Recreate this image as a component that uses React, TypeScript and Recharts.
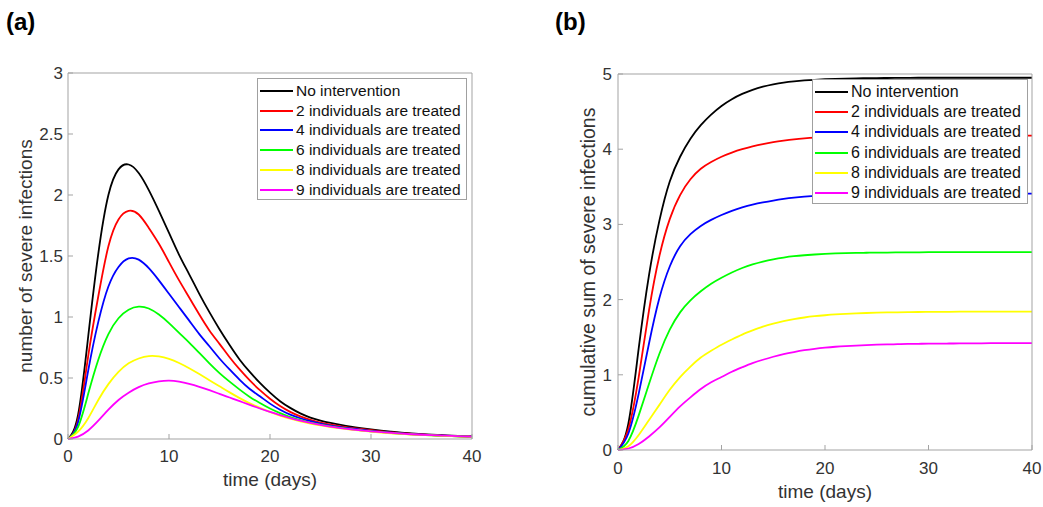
import { LineChart, Line, XAxis, YAxis, Legend } from "recharts";

const FONT = '"Liberation Sans", Arial, sans-serif';
const AXIS = "#a3a3a3";
const TEXT = "#333333";

// days 0..40
const days = [
  0, 1, 2, 3, 4, 5, 6, 7, 8, 9, 10, 11, 12, 13, 14, 15, 16, 17, 18, 19, 20,
  21, 22, 23, 24, 25, 26, 27, 28, 29, 30, 31, 32, 33, 34, 35, 36, 37, 38, 39, 40,
];

const seriesNames = [
  "No intervention",
  "2 individuals are treated",
  "4 individuals are treated",
  "6 individuals are treated",
  "8 individuals are treated",
  "9 individuals are treated",
];
const seriesColors = ["#000000", "#ff0000", "#0000ff", "#00ff00", "#ffff00", "#ff00ff"];

// (a) number of severe infections
const severeNone = [
  0, 0.2, 0.84, 1.52, 2.0, 2.21, 2.25, 2.18, 2.04, 1.87,
  1.69, 1.51, 1.35, 1.19, 1.04, 0.9, 0.77, 0.65, 0.55, 0.46,
  0.38, 0.31, 0.255, 0.21, 0.176, 0.151, 0.132, 0.116, 0.102, 0.09,
  0.079, 0.069, 0.06, 0.052, 0.046, 0.04, 0.035, 0.031, 0.027, 0.024, 0.021,
];
const severe2 = [
  0, 0.16, 0.68, 1.17, 1.58, 1.8, 1.87, 1.84, 1.73, 1.6,
  1.45, 1.3, 1.16, 1.02, 0.89, 0.78, 0.67, 0.57, 0.48, 0.4,
  0.33, 0.27, 0.222, 0.185, 0.157, 0.135, 0.118, 0.104, 0.092, 0.082,
  0.072, 0.063, 0.055, 0.048, 0.042, 0.037, 0.032, 0.028, 0.025, 0.022, 0.02,
];
const severe4 = [
  0, 0.14, 0.56, 0.96, 1.25, 1.41, 1.48, 1.47, 1.4, 1.3,
  1.19, 1.08, 0.97, 0.86, 0.76, 0.66, 0.57, 0.485, 0.41, 0.35,
  0.29, 0.24, 0.2, 0.17, 0.146, 0.126, 0.11, 0.097, 0.086, 0.076,
  0.067, 0.059, 0.052, 0.046, 0.04, 0.035, 0.031, 0.027, 0.024, 0.021, 0.019,
];
const severe6 = [
  0, 0.1, 0.37, 0.65, 0.86, 0.99, 1.06, 1.085, 1.07, 1.02,
  0.95, 0.87, 0.79, 0.705, 0.62, 0.54, 0.47, 0.405, 0.345, 0.295,
  0.25, 0.212, 0.18, 0.155, 0.135, 0.118, 0.104, 0.092, 0.081, 0.071,
  0.063, 0.056, 0.049, 0.043, 0.038, 0.034, 0.03, 0.026, 0.023, 0.02, 0.018,
];
const severe8 = [
  0, 0.06, 0.17, 0.32, 0.45, 0.55, 0.62, 0.66, 0.68, 0.677,
  0.657, 0.623, 0.58, 0.532, 0.482, 0.432, 0.382, 0.335, 0.292, 0.255,
  0.222, 0.192, 0.166, 0.145, 0.127, 0.111, 0.098, 0.087, 0.077, 0.068,
  0.06, 0.053, 0.047, 0.042, 0.037, 0.033, 0.029, 0.026, 0.023, 0.02, 0.018,
];
const severe9 = [
  0, 0.02, 0.07, 0.15, 0.24, 0.32, 0.38, 0.425, 0.455, 0.472,
  0.478, 0.47, 0.452, 0.428, 0.4, 0.37, 0.34, 0.31, 0.28, 0.25,
  0.222, 0.196, 0.172, 0.151, 0.132, 0.116, 0.102, 0.09, 0.08, 0.071,
  0.063, 0.056, 0.05, 0.044, 0.039, 0.035, 0.031, 0.028, 0.025, 0.022, 0.02,
];

// (b) cumulative sum of severe infections
const cumNone = [
  0, 0.35, 1.35, 2.33, 3.05, 3.57, 3.9, 4.14, 4.32, 4.46,
  4.575, 4.665, 4.735, 4.79, 4.832, 4.863, 4.886, 4.902, 4.914, 4.923,
  4.93, 4.935, 4.939, 4.942, 4.944, 4.946, 4.947, 4.948, 4.949, 4.95,
  4.95, 4.95, 4.95, 4.95, 4.95, 4.95, 4.95, 4.95, 4.95, 4.95, 4.95,
];
const cum2 = [
  0, 0.28, 0.97, 1.86, 2.58, 3.07, 3.39, 3.6, 3.74, 3.83,
  3.9, 3.955, 4.0, 4.037, 4.068, 4.093, 4.113, 4.13, 4.143, 4.153,
  4.16, 4.165, 4.169, 4.172, 4.174, 4.176, 4.177, 4.178, 4.179, 4.18,
  4.18, 4.18, 4.18, 4.18, 4.18, 4.18, 4.18, 4.18, 4.18, 4.18, 4.18,
];
const cum4 = [
  0, 0.22, 0.75, 1.42, 2.02, 2.44, 2.71, 2.87, 2.98, 3.06,
  3.125, 3.18, 3.225, 3.262, 3.292, 3.317, 3.338, 3.355, 3.368, 3.378,
  3.386, 3.392, 3.397, 3.4, 3.403, 3.405, 3.406, 3.407, 3.408, 3.409,
  3.41, 3.41, 3.41, 3.41, 3.41, 3.41, 3.41, 3.41, 3.41, 3.41, 3.41,
];
const cum6 = [
  0, 0.12, 0.46, 0.88, 1.28, 1.6, 1.83, 1.99, 2.11, 2.21,
  2.29, 2.36, 2.42, 2.468, 2.506, 2.536, 2.559, 2.577, 2.59, 2.6,
  2.608, 2.614, 2.618, 2.621, 2.623, 2.625, 2.626, 2.627, 2.628, 2.629,
  2.63, 2.63, 2.63, 2.63, 2.63, 2.63, 2.63, 2.63, 2.63, 2.63, 2.63,
];
const cum8 = [
  0, 0.05, 0.2, 0.4, 0.6, 0.8, 0.97, 1.11, 1.23, 1.32,
  1.4, 1.47, 1.535, 1.59, 1.64, 1.68, 1.713, 1.74, 1.762, 1.779,
  1.792, 1.803, 1.811, 1.817, 1.822, 1.826, 1.829, 1.831, 1.833, 1.835,
  1.836, 1.837, 1.838, 1.839, 1.84, 1.84, 1.84, 1.84, 1.84, 1.84, 1.84,
];
const cum9 = [
  0, 0.02, 0.08, 0.18, 0.3, 0.44, 0.58, 0.7, 0.81, 0.9,
  0.97, 1.04, 1.1, 1.155, 1.2, 1.24, 1.275, 1.303, 1.327, 1.346,
  1.361, 1.373, 1.382, 1.389, 1.395, 1.4, 1.404, 1.407, 1.41, 1.412,
  1.414, 1.415, 1.416, 1.417, 1.418, 1.419, 1.42, 1.42, 1.42, 1.42, 1.42,
];

const xTicks = [0, 10, 20, 30, 40];
const yTicksA = [0, 0.5, 1, 1.5, 2, 2.5, 3];
const yTicksB = [0, 1, 2, 3, 4, 5];

const buildRows = (series: number[][]) =>
  days.map((t, i) => {
    const row: Record<string, number> = { t };
    series.forEach((s, k) => {
      row["s" + k] = s[i];
    });
    return row;
  });

const dataA = buildRows([severeNone, severe2, severe4, severe6, severe8, severe9]);
const dataB = buildRows([cumNone, cum2, cum4, cum6, cum8, cum9]);

const BoxLegend = (props: any) => {
  const { payload, boxWidth, boxHeight, fontSize, rowHeight } = props;
  // keep the plotting order, recharts sorts by name
  const items = [...(payload || [])].sort(
    (a: any, b: any) => seriesNames.indexOf(a.value) - seriesNames.indexOf(b.value)
  );
  return (
    <div
      style={{
        width: boxWidth,
        height: boxHeight,
        boxSizing: "border-box",
        border: "1px solid #a0a0a0",
        background: "#fff",
        padding: "2px 0 0 2px",
        fontFamily: FONT,
        fontSize,
        color: "#111",
      }}
    >
      {items.map((p: any) => (
        <div
          key={p.value}
          style={{ display: "flex", alignItems: "center", height: rowHeight, whiteSpace: "nowrap" }}
        >
          <span style={{ width: 33, height: 0, borderTop: `2px solid ${p.color}`, marginRight: 3 }} />
          <span>{p.value}</span>
        </div>
      ))}
    </div>
  );
};

const tickStyle = { fill: TEXT, fontSize: 17, fontFamily: FONT };

const renderLines = () =>
  seriesNames.map((name, k) => (
    <Line
      key={name}
      type="natural"
      dataKey={"s" + k}
      name={name}
      stroke={seriesColors[k]}
      strokeWidth={1.8}
      dot={false}
      isAnimationActive={false}
    />
  ));

export default function App() {
  return (
    <div
      style={{
        position: "fixed",
        left: 0,
        top: 0,
        width: 1043,
        height: 507,
        background: "#fff",
        fontFamily: FONT,
      }}
    >
      <div style={{ position: "absolute", left: 6, top: 8, fontSize: 24, fontWeight: "bold", lineHeight: "28px" }}>
        (a)
      </div>
      <div style={{ position: "absolute", left: 555, top: 8, fontSize: 24, fontWeight: "bold", lineHeight: "28px" }}>
        (b)
      </div>

      <div style={{ position: "absolute", left: 0, top: 0 }}>
        <LineChart width={520} height={507} data={dataA} margin={{ top: 72, right: 47, bottom: 0, left: 0 }}>
          <XAxis
            dataKey="t"
            type="number"
            domain={[0, 40]}
            ticks={xTicks}
            height={68}
            stroke={AXIS}
            tickSize={-5}
            tickMargin={16}
            tick={tickStyle}
            label={{ value: "time (days)", position: "insideBottom", offset: 21, style: { fontSize: 19, fill: TEXT, fontFamily: FONT } }}
          />
          <XAxis xAxisId="top" orientation="top" type="number" domain={[0, 40]} ticks={xTicks} height={1} stroke={AXIS} tickSize={-5} tick={false} />
          <YAxis
            type="number"
            domain={[0, 3]}
            ticks={yTicksA}
            width={68}
            stroke={AXIS}
            tickSize={-5}
            tickMargin={10}
            tick={tickStyle}
            label={{ value: "number of severe infections", angle: -90, position: "insideLeft", offset: 25, style: { textAnchor: "middle", fontSize: 19, fill: TEXT, fontFamily: FONT } }}
          />
          <YAxis yAxisId="right" orientation="right" type="number" domain={[0, 3]} ticks={yTicksA} width={1} stroke={AXIS} tickSize={-5} tick={false} />
          {renderLines()}
          <Legend
            layout="vertical"
            align="center"
            verticalAlign="middle"
            wrapperStyle={{ left: 257, top: 78, width: 210 }}
            content={(p: any) => <BoxLegend {...p} boxWidth={210} boxHeight={122} fontSize={15.5} rowHeight={19.8} />}
          />
        </LineChart>
      </div>

      <div style={{ position: "absolute", left: 520, top: 0 }}>
        <LineChart width={523} height={507} data={dataB} margin={{ top: 73, right: 10, bottom: 0, left: 0 }}>
          <XAxis
            dataKey="t"
            type="number"
            domain={[0, 40]}
            ticks={xTicks}
            height={57}
            stroke={AXIS}
            tickSize={-5}
            tickMargin={17}
            tick={tickStyle}
            label={{ value: "time (days)", position: "insideBottom", offset: 9, style: { fontSize: 19, fill: TEXT, fontFamily: FONT } }}
          />
          <XAxis xAxisId="top" orientation="top" type="number" domain={[0, 40]} ticks={xTicks} height={1} stroke={AXIS} tickSize={-5} tick={false} />
          <YAxis
            type="number"
            domain={[0, 5]}
            ticks={yTicksB}
            width={98}
            stroke={AXIS}
            tickSize={-5}
            tickMargin={11}
            tick={tickStyle}
            label={{ value: "cumulative sum of severe infections", angle: -90, position: "insideLeft", offset: 68, style: { textAnchor: "middle", fontSize: 19.5, fill: TEXT, fontFamily: FONT } }}
          />
          <YAxis yAxisId="right" orientation="right" type="number" domain={[0, 5]} ticks={yTicksB} width={1} stroke={AXIS} tickSize={-5} tick={false} />
          {renderLines()}
          <Legend
            layout="vertical"
            align="center"
            verticalAlign="middle"
            wrapperStyle={{ left: 292, top: 79, width: 216 }}
            content={(p: any) => <BoxLegend {...p} boxWidth={216} boxHeight={125} fontSize={16} rowHeight={20.2} />}
          />
        </LineChart>
      </div>
    </div>
  );
}
